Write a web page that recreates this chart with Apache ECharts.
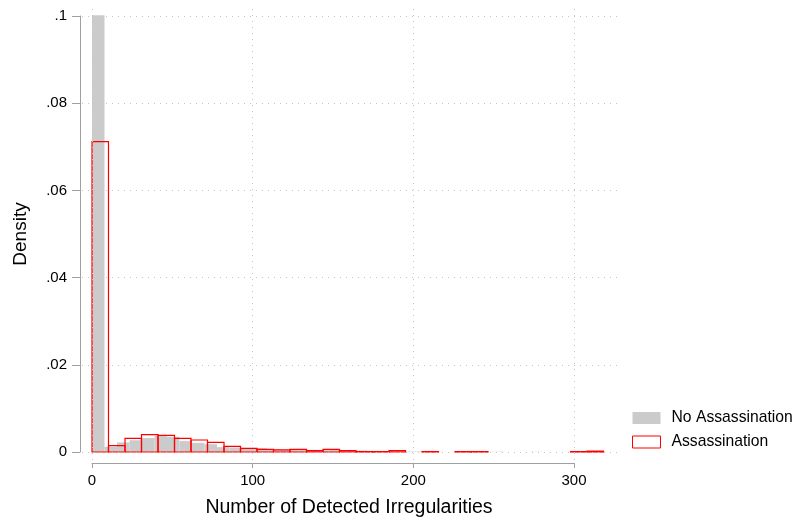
<!DOCTYPE html>
<html>
<head>
<meta charset="utf-8">
<script src="https://cdn.jsdelivr.net/npm/echarts@6/dist/echarts.min.js"></script>
<style>
  html, body { margin: 0; padding: 0; background: #fff; }
  #chart { width: 795px; height: 523px; }
</style>
</head>
<body>
<div id="chart"></div>
<script>
// Histogram bins: first edge, bin width, and density per bin
const noAssBinStart = 0;
const noAssBinWidth = 7.778;
const noAssDensity = [
  0.1002, 0.0012, 0.0022, 0.0027, 0.0032, 0.0037, 0.0035, 0.0025, 0.0021,
  0.0018, 0.0011, 0.0010, 0.0009, 0.0009, 0.0006, 0.0005, 0.0005, 0.0005,
  0.0004, 0.0005, 0.0004, 0.0003, 0.0002, 0.0002, 0.0001, 0.0001, 0.0001,
  0, 0, 0, 0, 0, 0.00005, 0, 0, 0.00005
];

const assBinStart = 0;
const assBinWidth = 10.27;
const assDensity = [
  0.0712, 0.00145, 0.00314, 0.00397, 0.00383, 0.00314, 0.00275, 0.00222,
  0.00131, 0.00085, 0.0006, 0.0005, 0.0006, 0.0003, 0.0006, 0.0003,
  0.0001, 0.0001, 0.0003, 0, 0.0001, 0, 0.0001, 0.0001,
  0, 0, 0, 0, 0, 0.0001, 0.0002
];

const xTicks = [0, 100, 200, 300];
const yTicks = [0, 0.02, 0.04, 0.06, 0.08, 0.1];
const yTickLabels = ['0', '.02', '.04', '.06', '.08', '.1'];

const seriesNames = ['No Assassination', 'Assassination'];
const xTitle = 'Number of Detected Irregularities';
const yTitle = 'Density';

const FONT = '"Liberation Sans", Arial, Helvetica, sans-serif';

function toBins(start, width, dens) {
  const out = [];
  dens.forEach((d, i) => {
    if (d > 0) out.push([start + i * width, start + (i + 1) * width, d]);
  });
  return out;
}

function histRender(fill, stroke, lw) {
  return function (params, api) {
    const p0 = api.coord([api.value(0), 0]);
    const p1 = api.coord([api.value(1), api.value(2)]);
    return {
      type: 'rect',
      shape: { x: p0[0], y: p1[1], width: p1[0] - p0[0], height: p0[1] - p1[1] },
      style: { fill: fill, stroke: stroke, lineWidth: lw }
    };
  };
}

const chart = echarts.init(document.getElementById('chart'), null, { renderer: 'canvas' });

const plotXMin = -6.224, plotXMax = 328.63;
const plotYMin = -0.001835, plotYMax = 0.102523;
const dotted = { color: '#c4c4c4', width: 1, type: [1, 5] };

chart.setOption({
  animation: false,
  backgroundColor: '#ffffff',
  textStyle: { fontFamily: FONT },
  grid: [
    { left: 82, top: 5, right: 175, bottom: 63, containLabel: false },
    { left: 92, top: 462, width: 482, height: 1, containLabel: false },
    { left: 80, top: 16, width: 1, height: 436, containLabel: false }
  ],
  xAxis: [
    { gridIndex: 0, type: 'value', min: plotXMin, max: plotXMax, show: false },
    {
      gridIndex: 1, type: 'value', min: 0, max: 300, interval: 100, position: 'bottom',
      axisLine: { show: true, lineStyle: { color: '#a0a0a0', width: 1 } },
      axisTick: { show: true, length: 5, lineStyle: { color: '#a0a0a0' } },
      axisLabel: { margin: 10, color: '#000', fontSize: 15, fontFamily: FONT,
        formatter: v => String(v) },
      splitLine: { show: false }
    },
    { gridIndex: 2, type: 'value', min: 0, max: 1, show: false }
  ],
  yAxis: [
    { gridIndex: 0, type: 'value', min: plotYMin, max: plotYMax, show: false },
    { gridIndex: 1, type: 'value', min: 0, max: 1, show: false },
    {
      gridIndex: 2, type: 'value', min: 0, max: 0.1, interval: 0.02, position: 'left',
      axisLine: { show: true, lineStyle: { color: '#a0a0a0', width: 1 } },
      axisTick: { show: true, length: 8, lineStyle: { color: '#a0a0a0' } },
      axisLabel: { margin: 13, color: '#000', fontSize: 15, fontFamily: FONT,
        formatter: v => yTickLabels[Math.round(v / 0.02)] },
      splitLine: { show: false }
    }
  ],
  legend: {
    orient: 'vertical',
    left: 632, top: 410,
    padding: 0,
    itemWidth: 28, itemHeight: 12, itemGap: 8,
    icon: 'rect',
    selectedMode: false,
    textStyle: { fontSize: 15.7, color: '#000', fontFamily: FONT, padding: [0, 0, 0, 6] },
    data: [
      { name: seriesNames[0], itemStyle: { color: '#cbcbcb', borderWidth: 0 } },
      { name: seriesNames[1], itemStyle: { color: '#ffffff', borderColor: '#ff0000', borderWidth: 1 } }
    ]
  },
  graphic: [
    { type: 'text', x: 349, y: 508, style: { text: xTitle, align: 'center', verticalAlign: 'middle',
        font: '19.5px ' + FONT, fill: '#000' }, z: 10 },
    { type: 'text', x: 21, y: 234, rotation: Math.PI / 2, style: { text: yTitle, align: 'center',
        verticalAlign: 'middle', font: '19px ' + FONT, fill: '#000' }, z: 10 }
  ],
  series: [
    {
      type: 'line', xAxisIndex: 0, yAxisIndex: 0, data: [], silent: true, z: 1,
      markLine: {
        silent: true, symbol: 'none', animation: false,
        label: { show: false },
        lineStyle: dotted,
        data: xTicks.map(v => ({ xAxis: v })).concat(yTicks.map(v => ({ yAxis: v })))
      }
    },
    {
      name: seriesNames[0], type: 'custom', xAxisIndex: 0, yAxisIndex: 0, z: 2,
      itemStyle: { color: '#cbcbcb' },
      renderItem: histRender('#cbcbcb', null, 0),
      encode: { x: [0, 1], y: 2 },
      data: toBins(noAssBinStart, noAssBinWidth, noAssDensity)
    },
    {
      name: seriesNames[1], type: 'custom', xAxisIndex: 0, yAxisIndex: 0, z: 3,
      itemStyle: { color: '#ffffff', borderColor: '#ff0000', borderWidth: 1 },
      renderItem: histRender(null, '#ff0000', 1.2),
      encode: { x: [0, 1], y: 2 },
      data: toBins(assBinStart, assBinWidth, assDensity)
    }
  ]
});
</script>
</body>
</html>
